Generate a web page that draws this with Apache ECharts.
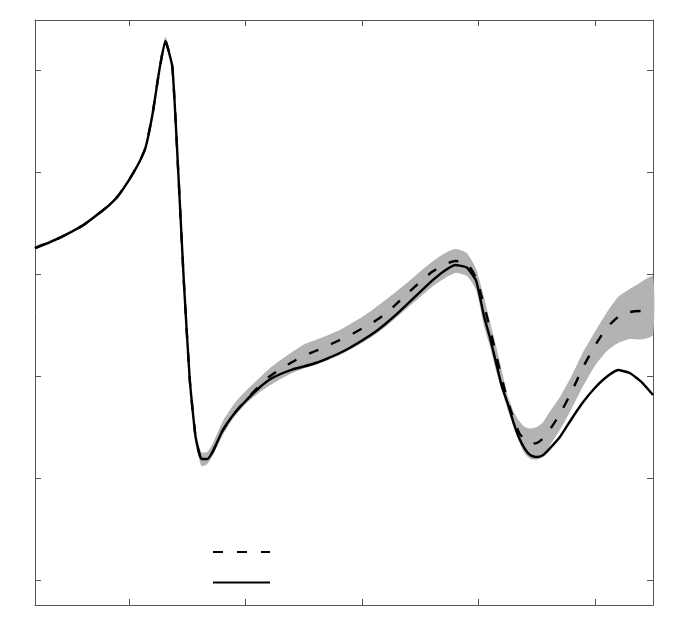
<!DOCTYPE html>
<html>
<head>
<meta charset="utf-8">
<script src="https://cdn.jsdelivr.net/npm/echarts@6/dist/echarts.min.js"></script>
<style>
  html, body { margin: 0; padding: 0; background: #fff; }
  #main { width: 692px; height: 630px; }
</style>
</head>
<body>
<div id="main"></div>
<script>
// x positions shared by every series
var xs = [19, 30, 40, 50, 60, 70, 80, 90, 100, 108, 114, 120, 126, 131, 137, 142, 147, 152, 157, 162,
  167, 172, 180, 190, 200, 210, 220, 230, 240, 250, 260, 270, 280, 290, 300, 310, 320, 330, 340, 350,
  360, 370, 380, 390, 398, 405, 410, 415, 420, 425, 430, 435, 440, 445, 450, 455, 460, 470, 480, 490,
  500, 510, 520, 530, 540, 550];

// solid curve
var solidVals = [32.60, 33.09, 33.59, 34.17, 34.81, 35.65, 36.53, 37.66, 39.32, 40.89, 42.46, 45.75, 50.17, 52.91, 50.36, 40.26, 29.07, 19.65, 14.06, 11.90,
  11.90, 12.69, 14.65, 16.32, 17.59, 18.72, 19.65, 20.24, 20.68, 20.98, 21.32, 21.76, 22.25, 22.84, 23.53, 24.26, 25.15, 26.13, 27.21, 28.29,
  29.37, 30.30, 30.94, 30.69, 29.40, 25.83, 23.77, 21.42, 19.06, 17.40, 15.53, 13.96, 12.88, 12.24, 12.10, 12.24, 12.78, 14.06, 15.83, 17.49,
  18.87, 19.95, 20.63, 20.34, 19.46, 18.18];

// dashed curve (mean)
var meanVals = [32.60, 33.09, 33.59, 34.17, 34.81, 35.65, 36.53, 37.66, 39.32, 40.89, 42.46, 45.75, 50.17, 52.91, 50.36, 40.26, 29.07, 19.65, 14.06, 11.90,
  11.90, 12.69, 14.65, 16.32, 17.69, 18.87, 19.95, 20.73, 21.42, 22.01, 22.50, 22.99, 23.53, 24.07, 24.71, 25.34, 26.13, 27.16, 28.24, 29.27,
  30.25, 30.94, 31.33, 31.13, 29.66, 26.91, 24.66, 22.20, 19.85, 17.69, 15.92, 14.45, 13.77, 13.42, 13.47, 13.86, 14.55, 16.32, 18.48, 20.93,
  22.99, 24.75, 25.83, 26.32, 26.42, 26.32];

// grey band limits
var upperVals = [32.75, 33.24, 33.74, 34.32, 34.96, 35.80, 36.68, 37.81, 39.47, 41.04, 42.61, 45.90, 50.32, 53.31, 50.56, 40.45, 29.27, 20.05, 14.55, 12.59,
  12.59, 13.47, 15.53, 17.30, 18.57, 19.65, 20.73, 21.61, 22.40, 23.14, 23.58, 24.02, 24.51, 25.15, 25.83, 26.62, 27.50, 28.39, 29.32, 30.30,
  31.23, 32.02, 32.51, 32.11, 30.54, 27.70, 25.34, 23.09, 20.63, 18.18, 16.61, 15.63, 15.04, 14.89, 15.04, 15.43, 16.32, 17.98, 20.05, 22.40,
  24.36, 26.23, 27.80, 28.58, 29.27, 29.81];
var lowerVals = [32.45, 32.94, 33.44, 34.02, 34.66, 35.50, 36.38, 37.51, 39.17, 40.74, 42.31, 45.60, 50.02, 52.72, 50.16, 40.06, 28.88, 19.26, 13.57, 11.21,
  11.41, 12.29, 14.16, 16.02, 17.30, 18.28, 19.06, 19.75, 20.34, 20.78, 21.12, 21.57, 22.06, 22.65, 23.28, 24.02, 24.85, 25.83, 26.82, 27.80,
  28.78, 29.56, 30.15, 29.86, 28.48, 24.85, 22.89, 20.63, 18.67, 16.81, 15.14, 13.57, 12.39, 11.90, 11.85, 12.10, 12.98, 14.75, 16.81, 19.06,
  21.03, 22.45, 23.28, 23.68, 23.63, 24.07];

var xTicks = [100, 200, 300, 400, 500];
var yTicks = [0, 10, 20, 30, 40, 50];

function pairs(vals) {
  return xs.map(function (x, i) { return [x, vals[i]]; });
}

var axisColor = '#555';
function xAx(pos) {
  return {
    type: 'value', position: pos, min: 19, max: 550,
    splitLine: { show: false },
    axisLine: { show: true, onZero: false, lineStyle: { color: axisColor, width: 1 } },
    axisTick: { show: true, inside: true, length: 6, customValues: xTicks, lineStyle: { color: axisColor } },
    axisLabel: { show: false }
  };
}
function yAx(pos) {
  return {
    type: 'value', position: pos, min: -2.42, max: 54.97,
    splitLine: { show: false },
    axisLine: { show: true, onZero: false, lineStyle: { color: axisColor, width: 1 } },
    axisTick: { show: true, inside: true, length: 6, customValues: yTicks, lineStyle: { color: axisColor } },
    axisLabel: { show: false }
  };
}

var chart = echarts.init(document.getElementById('main'), null, { renderer: 'canvas' });

chart.setOption({
  animation: false,
  backgroundColor: '#fff',
  grid: { left: 35, right: 39, top: 20, bottom: 25 },
  xAxis: [xAx('bottom'), xAx('top')],
  yAxis: [yAx('left'), yAx('right')],
  legend: {
    data: ['mean', 'measured'],
    orient: 'vertical',
    left: 212,
    top: 545,
    padding: 0,
    itemWidth: 57,
    itemHeight: 14,
    itemGap: 18,
    itemStyle: { opacity: 0 },
    formatter: function () { return ''; },
    selectedMode: false
  },
  series: [
    {
      // band between lower and upper, drawn as one polygon
      name: 'band', type: 'custom', silent: true, z: 1,
      data: [[xs[0], upperVals[0]]],
      renderItem: function (params, api) {
        var pts = [];
        for (var i = 0; i < xs.length; i++) pts.push(api.coord([xs[i], upperVals[i]]));
        for (var j = xs.length - 1; j >= 0; j--) pts.push(api.coord([xs[j], lowerVals[j]]));
        return { type: 'polygon', shape: { points: pts, smooth: 0.2 }, style: { fill: '#b3b3b3' } };
      }
    },
    {
      name: 'mean', type: 'line', symbol: 'none', smooth: 0.15,
      data: pairs(meanVals),
      lineStyle: { color: '#000', width: 2.4, type: [10, 14] },
      itemStyle: { color: '#000' },
      z: 3
    },
    {
      name: 'measured', type: 'line', symbol: 'none', smooth: 0.15,
      data: pairs(solidVals),
      lineStyle: { color: '#000', width: 2.4 },
      itemStyle: { color: '#000' },
      z: 4
    }
  ]
});

window.addEventListener('resize', function () {
  chart.resize();
});
</script>
</body>
</html>
